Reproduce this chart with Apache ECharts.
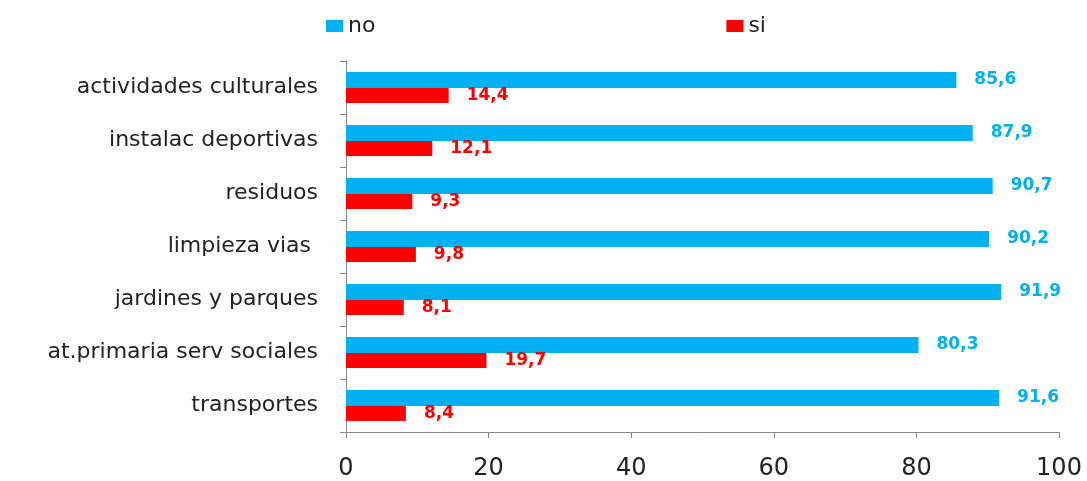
<!DOCTYPE html>
<html>
<head>
<meta charset="utf-8">
<script src="https://cdn.jsdelivr.net/npm/echarts@6/dist/echarts.min.js"></script>
<style>
  html, body { margin: 0; padding: 0; background: #fff; }
  #chart { width: 1087px; height: 481px; }
</style>
</head>
<body>
<div id="chart"></div>
<script>
const categories = ['actividades culturales', 'instalac deportivas', 'residuos', 'limpieza vias ',
  'jardines y parques', 'at.primaria serv sociales', 'transportes']
const noValues = [85.6, 87.9, 90.7, 90.2, 91.9, 80.3, 91.6]
const siValues = [14.4, 12.1, 9.3, 9.8, 8.1, 19.7, 8.4]
const xTicks = [0, 20, 40, 60, 80, 100]

const font = 'DejaVu Sans'
const colors = ['#00b0f0', '#ff0000']

// etiqueta con coma decimal
const fmt = p => String(p.value).replace('.', ',')

const option = {
  animation: false,
  color: colors,
  textStyle: { fontFamily: font },
  legend: {
    left: 321,
    top: 10,
    itemGap: 351,
    itemWidth: 17,
    itemHeight: 12,
    icon: 'rect',
    textStyle: { fontSize: 22, color: '#222', fontFamily: font }
  },
  grid: { left: 346, right: 28, top: 61, bottom: 48 },
  xAxis: {
    type: 'value',
    min: xTicks[0],
    max: xTicks[xTicks.length - 1],
    interval: 20,
    splitLine: { show: false },
    axisLine: { show: true, lineStyle: { color: '#888' } },
    axisTick: { show: true, length: 6, lineStyle: { color: '#888' } },
    axisLabel: { fontSize: 24, color: '#222', margin: 25, fontFamily: font }
  },
  yAxis: {
    type: 'category',
    inverse: true,
    data: categories,
    axisLine: { show: true, lineStyle: { color: '#888' } },
    axisTick: { show: true, length: 6, lineStyle: { color: '#888' } },
    axisLabel: { fontSize: 22, color: '#222', margin: 28, fontFamily: font }
  },
  series: [
    {
      name: 'no',
      type: 'bar',
      data: noValues,
      barWidth: 16,
      barGap: '0%',
      label: {
        show: true, position: 'right', distance: 18, formatter: fmt,
        color: colors[0], fontWeight: 'bold', fontSize: 17, fontFamily: font
      }
    },
    {
      name: 'si',
      type: 'bar',
      data: siValues,
      barWidth: 15,
      barGap: '0%',
      label: {
        show: true, position: 'right', distance: 18, formatter: fmt,
        color: colors[1], fontWeight: 'bold', fontSize: 17, fontFamily: font
      }
    }
  ]
}

echarts.init(document.getElementById('chart')).setOption(option)
</script>
</body>
</html>
